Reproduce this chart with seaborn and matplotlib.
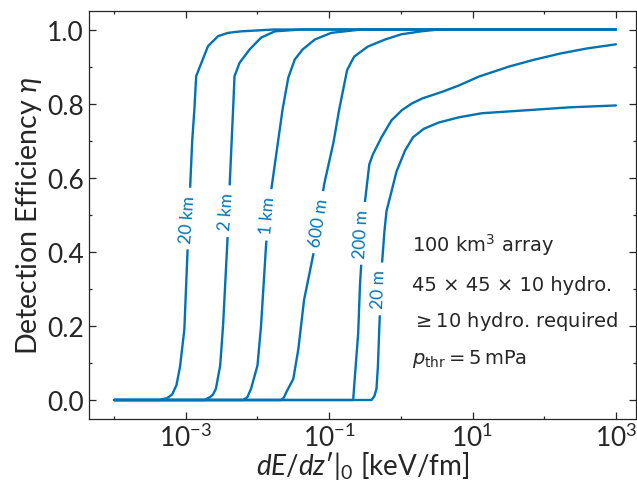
import numpy as np
import pandas as pd
import seaborn as sns
import matplotlib.pyplot as plt
from matplotlib.ticker import FixedLocator, MultipleLocator, NullFormatter

# curve data: log10(dE/dz'|0) and detection efficiency
curve_names = ['20 km', '2 km', '1 km', '600 m', '200 m', '20 m']

logx_20km = [-4, -3.38, -3.26, -3.19, -3.13, -3.08, -3.02, -2.98, -2.94, -2.91, -2.88, -2.855,
             -2.78, -2.69, -2.55, -2.41, -2.23, -1.77, 3]
eta_20km = [0, 0, 0.005, 0.015, 0.04, 0.09, 0.19, 0.38, 0.57, 0.70, 0.784, 0.874,
            0.911, 0.955, 0.982, 0.991, 0.995, 1.0, 1.0]

logx_2km = [-4, -2.74, -2.66, -2.62, -2.58, -2.52, -2.48, -2.42, -2.39, -2.34, -2.32,
            -2.25, -2.11, -1.95, -1.76, -1.39, 3]
eta_2km = [0, 0, 0.008, 0.015, 0.03, 0.093, 0.2, 0.426, 0.57, 0.784, 0.874,
           0.91, 0.946, 0.978, 0.995, 1.0, 1.0]

logx_1km = [-4, -2.20, -2.14, -2.09, -2.00, -1.95, -1.88, -1.81, -1.65, -1.57, -1.48,
            -1.37, -1.20, -0.97, -0.55, 3]
eta_1km = [0, 0, 0.008, 0.03, 0.093, 0.2, 0.418, 0.564, 0.784, 0.87, 0.919,
           0.946, 0.973, 0.991, 1.0, 1.0]

logx_600m = [-4, -1.67, -1.63, -1.60, -1.50, -1.43, -1.35, -1.22, -1.07, -0.94, -0.86, -0.75,
             -0.70, -0.65, -0.46, -0.22, 0.005, 0.28, 0.53, 3]
eta_600m = [0, 0, 0.007, 0.02, 0.057, 0.137, 0.27, 0.394, 0.582, 0.695, 0.784, 0.89,
            0.909, 0.927, 0.954, 0.973, 0.987, 0.995, 1.0, 1.0]

logx_200m = [-4, -0.665, -0.65, -0.595, -0.57, -0.50, -0.44, -0.39, -0.27, -0.13, -0.06,
             0.013, 0.15, 0.30, 0.58, 0.81, 1.09, 1.51, 1.85, 2.22, 2.60, 3.0]
eta_200m = [0, 0, 0.04, 0.18, 0.31, 0.536, 0.636, 0.663, 0.709, 0.755, 0.768,
            0.782, 0.80, 0.814, 0.832, 0.849, 0.873, 0.9, 0.918, 0.935, 0.949, 0.96]

logx_20m = [-4, -0.41, -0.37, -0.34, -0.32, -0.30, -0.26, -0.23, -0.20, -0.13, -0.06, 0.06,
            0.17, 0.32, 0.53, 0.81, 1.13, 1.75, 2.36, 3.0]
eta_20m = [0, 0, 0.01, 0.03, 0.09, 0.197, 0.375, 0.453, 0.51, 0.563, 0.617, 0.674,
           0.709, 0.732, 0.749, 0.763, 0.774, 0.782, 0.79, 0.795]

all_logx = [logx_20km, logx_2km, logx_1km, logx_600m, logx_200m, logx_20m]
all_eta = [eta_20km, eta_2km, eta_1km, eta_600m, eta_200m, eta_20m]

# inline label spots (log10 x, eta, rotation)
label_spots = [(-2.98, 0.49, 86), (-2.43, 0.51, 86), (-1.86, 0.50, 85),
               (-1.15, 0.48, 81), (-0.55, 0.45, 87), (-0.31, 0.30, 88)]

info_lines = [r'100 km$^3$ array', '45 × 45 × 10 hydro.',
              r'$\geq 10$ hydro. required', r'$p_\mathrm{thr} = 5\,\mathrm{mPa}$']
info_y = [0.411, 0.315, 0.227, 0.137]

blue = '#0173B2'

rows = []
for name, lx, et in zip(curve_names, all_logx, all_eta):
    for a, b in zip(lx, et):
        rows.append({'curve': name, 'dEdz': 10 ** a, 'eta': b})
df = pd.DataFrame(rows)

sns.set_style('ticks')
plt.rcParams['font.family'] = ['Lato', 'DejaVu Sans']
plt.rcParams['mathtext.fontset'] = 'custom'
plt.rcParams['mathtext.rm'] = 'Lato'
plt.rcParams['mathtext.it'] = 'Lato:italic'
plt.rcParams['mathtext.bf'] = 'Lato:bold'

fig, ax = plt.subplots(figsize=(6.37, 4.85), dpi=100)
fig.subplots_adjust(left=0.1397, right=0.9984, bottom=0.135, top=0.9753)

sns.lineplot(data=df, x='dEdz', y='eta', hue='curve', palette=[blue] * 6,
             legend=False, sort=False, estimator=None, lw=1.7, ax=ax)

ax.set_xscale('log')
ax.set_xlim(10 ** -4.35, 10 ** 3.28)
ax.set_ylim(-0.05, 1.05)

ax.xaxis.set_major_locator(FixedLocator([1e-3, 1e-1, 1e1, 1e3]))
ax.xaxis.set_minor_locator(FixedLocator([1e-4, 1e-2, 1e0, 1e2]))
ax.xaxis.set_minor_formatter(NullFormatter())
ax.yaxis.set_major_locator(MultipleLocator(0.2))
ax.yaxis.set_minor_locator(MultipleLocator(0.1))
ax.yaxis.set_major_formatter(plt.FormatStrFormatter('%.1f'))

ax.tick_params(which='both', direction='in', top=True, right=True, width=0.9)
ax.tick_params(which='major', length=5, labelsize=19)
ax.tick_params(which='minor', length=2.5)
for sp in ax.spines.values():
    sp.set_linewidth(0.9)

ax.set_xlabel("$dE/dz$′$|_0$ [keV/fm]", fontsize=20, labelpad=-1.5)
ax.set_ylabel(r'Detection Efficiency $\eta$', fontsize=20.5, labelpad=2)

for name, (lx, ly, rot) in zip(curve_names, label_spots):
    ax.text(10 ** lx, ly, name, rotation=rot, rotation_mode='anchor', color=blue,
            fontsize=12.5, ha='center', va='center',
            bbox=dict(facecolor='white', edgecolor='none', pad=5))

for s, yy in zip(info_lines, info_y):
    ax.text(0.59, yy, s, transform=ax.transAxes,
            fontsize=14, family='DejaVu Sans', math_fontfamily='dejavusans',
            va='baseline')

fig.savefig('out.png', dpi=100)
